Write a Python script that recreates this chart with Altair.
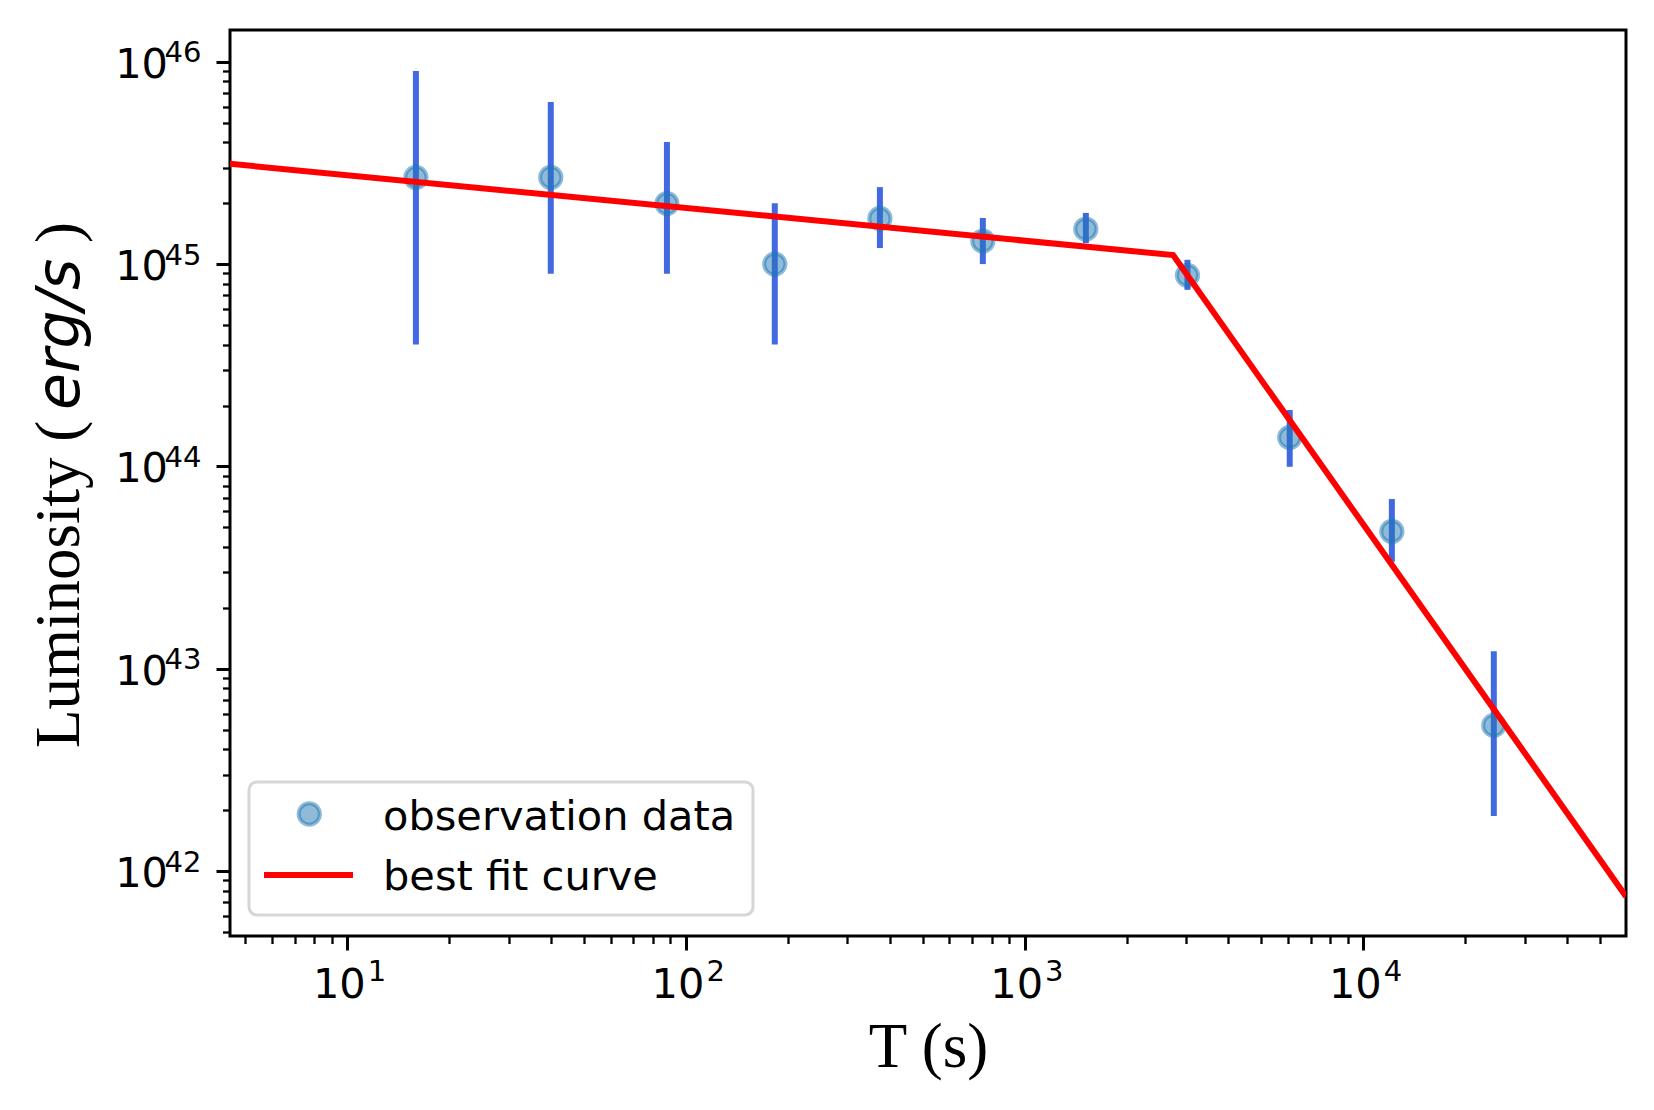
import altair as alt
import pandas as pd

# ---- data ----
t_obs = [15.95, 39.9, 87.9, 183, 374, 753, 1517, 3027, 6067, 12150, 24300]
L_obs = [2.68e45, 2.68e45, 1.99e45, 1.0e45, 1.68e45, 1.30e45, 1.49e45, 8.8e44, 1.39e44, 4.77e43, 5.25e42]
L_hi = [9.0e45, 6.32e45, 4.01e45, 2.0e45, 2.40e45, 1.69e45, 1.79e45, 1.05e45, 1.90e44, 6.9e43, 1.22e43]
L_lo = [4.0e44, 8.96e44, 8.96e44, 4.0e44, 1.20e45, 1.0e45, 1.27e45, 7.46e44, 9.96e43, 3.38e43, 1.875e42]

fit_t = [4.5, 2746, 59700]
fit_L = [3.13e45, 1.108e45, 7.5e41]

X_DOMAIN = [4.506, 59700]
Y_DOMAIN = [4.78e41, 1.435e46]
x_major = [10, 100, 1000, 10000]
y_major = [1e42, 1e43, 1e44, 1e45, 1e46]
x_minor = [m * 10 ** e for e in range(0, 5) for m in range(2, 10)
           if X_DOMAIN[0] <= m * 10 ** e <= X_DOMAIN[1]]
y_minor = [m * 10.0 ** e for e in range(41, 46) for m in range(2, 10)
           if Y_DOMAIN[0] <= m * 10.0 ** e <= Y_DOMAIN[1]]

obs = pd.DataFrame({"t": t_obs, "L": L_obs, "lo": L_lo, "hi": L_hi})
fit = pd.DataFrame({"t": fit_t, "L": fit_L})
one = pd.DataFrame({"k": [0]})

W, H = 1396, 906
xs = alt.Scale(type="log", domain=X_DOMAIN, nice=False)
ys = alt.Scale(type="log", domain=Y_DOMAIN, nice=False)

FONT = "DejaVu Sans"
SERIF = "Liberation Serif"
EXP = "format(log(datum.value)/LN10, '.0f')"
LBL = 41.5
SUP = 29

common = dict(domain=False, grid=False, labelFlush=False, labelOverlap=False,
              tickColor="black", labelColor="black", labelFont=FONT)

ax_x_major = alt.Axis(orient="bottom", values=x_major, labelExpr="'10'", tickSize=14, tickWidth=3,
                      labelFontSize=LBL, labelAlign="right", labelBaseline="alphabetic",
                      labelOffset=18, labelPadding=47,
                      title="T (s)", titleFont=SERIF, titleFontSize=63, titleFontWeight="normal",
                      titleColor="black", titleX=W / 2, titleY=130, titleAlign="center",
                      titleBaseline="alphabetic", **common)
ax_x_exp = alt.Axis(orient="bottom", values=x_major, labelExpr=EXP, ticks=False, tickSize=0,
                    labelFontSize=SUP, labelAlign="left", labelBaseline="alphabetic",
                    labelOffset=20, labelPadding=44, title="", **common)
ax_x_minor = alt.Axis(orient="bottom", values=x_minor, labels=False, tickSize=7.5, tickWidth=2.3,
                      title="", **common)

ax_y_major = alt.Axis(orient="left", values=y_major, labelExpr="'10'", tickSize=14, tickWidth=3,
                      labelFontSize=LBL, labelAlign="right", labelBaseline="alphabetic",
                      labelOffset=15.5, labelPadding=48.5, title="", **common)
ax_y_exp = alt.Axis(orient="left", values=y_major, labelExpr=EXP, ticks=False, tickSize=0,
                    labelFontSize=SUP, labelAlign="left", labelBaseline="alphabetic",
                    labelOffset=0, labelPadding=66, title="", **common)
ax_y_minor = alt.Axis(orient="left", values=y_minor, labels=False, tickSize=7.5, tickWidth=2.3,
                      title="", **common)

errbars = alt.Chart(obs).mark_rule(color="#4169E1", strokeWidth=6).encode(
    x=alt.X("t:Q", scale=xs, axis=ax_x_major),
    y=alt.Y("lo:Q", scale=ys, axis=ax_y_major),
    y2="hi:Q",
)

point_style = dict(size=452, fill="#1f77b4", stroke="#1f77b4", fillOpacity=0.5,
                   strokeOpacity=0.5, strokeWidth=4, opacity=1)

points = alt.Chart(obs).mark_circle(**point_style).encode(
    x=alt.X("t:Q", scale=xs, axis=ax_x_exp),
    y=alt.Y("L:Q", scale=ys, axis=ax_y_exp),
)

fitline = alt.Chart(fit).mark_line(color="red", strokeWidth=6, clip=True).encode(
    x=alt.X("t:Q", scale=xs, axis=ax_x_minor),
    y=alt.Y("L:Q", scale=ys, axis=ax_y_minor),
)

# ---- y-axis title (mixed fonts) ----
ytitle1 = alt.Chart(one).mark_text(text="Luminosity (", font=SERIF, fontSize=63, angle=270,
                                   align="left", baseline="alphabetic", color="black").encode(
    x=alt.value(-151), y=alt.value(718))
ytitle2 = alt.Chart(one).mark_text(text="erg/s", font=FONT, fontStyle="italic", fontSize=60,
                                   angle=270, align="left", baseline="alphabetic",
                                   color="black").encode(x=alt.value(-151), y=alt.value(380))
ytitle3 = alt.Chart(one).mark_text(text=")", font=SERIF, fontSize=63, angle=270,
                                   align="left", baseline="alphabetic", color="black").encode(
    x=alt.value(-151), y=alt.value(213))

# ---- legend ----
leg_box = alt.Chart(one).mark_rect(fill="white", fillOpacity=0.8, stroke="#d6d6d6",
                                   strokeWidth=3, cornerRadius=8).encode(
    x=alt.value(19), x2=alt.value(523), y=alt.value(752), y2=alt.value(885))
leg_pt = alt.Chart(one).mark_circle(**point_style).encode(x=alt.value(79.3), y=alt.value(784))
leg_line = alt.Chart(one).mark_rule(color="red", strokeWidth=6).encode(
    x=alt.value(34), x2=alt.value(123), y=alt.value(845))
leg_t1 = alt.Chart(one).mark_text(text="observation data", font=FONT, fontSize=LBL, align="left",
                                  baseline="alphabetic", color="black").encode(
    x=alt.value(153), y=alt.value(800))
leg_t2 = alt.Chart(one).mark_text(text="best fit curve", font=FONT, fontSize=LBL, align="left",
                                  baseline="alphabetic", color="black").encode(
    x=alt.value(153), y=alt.value(860))

chart = alt.layer(
    errbars, points, fitline,
    ytitle1, ytitle2, ytitle3,
    leg_box, leg_pt, leg_line, leg_t1, leg_t2,
).resolve_axis(x="independent", y="independent").properties(
    width=W, height=H,
    autosize=alt.AutoSizeParams(type="none"),
    padding={"left": 222, "top": 22, "right": 20, "bottom": 166},
    background="white",
).configure_view(stroke="black", strokeWidth=3)

chart.save("out.html", embed_options={"renderer": "svg", "actions": False})
